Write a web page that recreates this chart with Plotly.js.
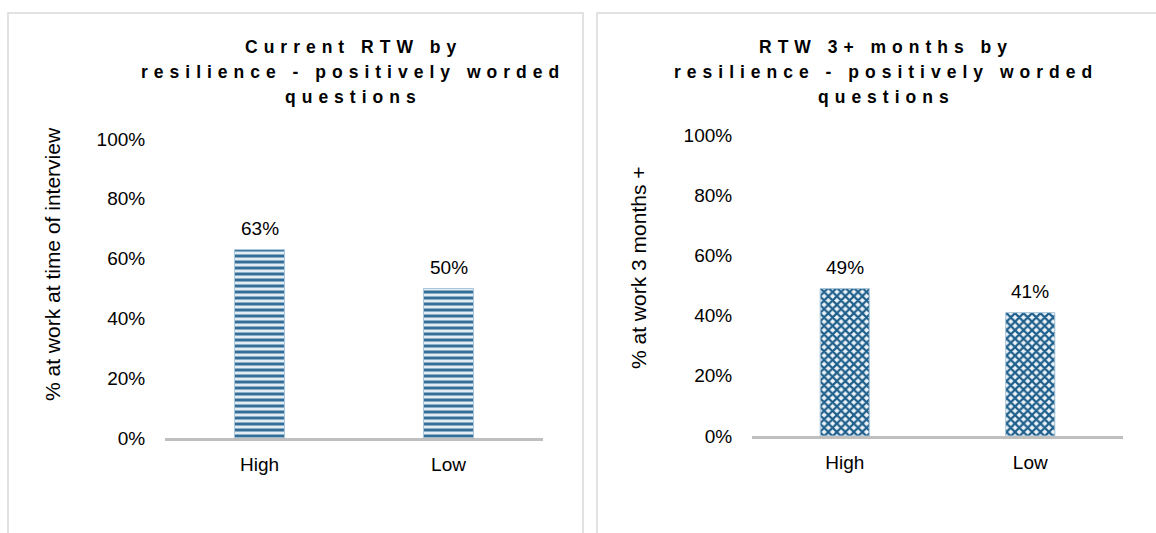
<!DOCTYPE html>
<html>
<head>
<meta charset="utf-8">
<script src="https://cdn.plot.ly/plotly-3.0.1.min.js"></script>
<style>html,body{margin:0;padding:0;background:#fff;}#chart{width:1156px;height:533px;}</style>
</head>
<body>
<div id="chart"></div>
<script>
// ---- data ----
const categories = ["High", "Low"];
const currentRTW = [0.63, 0.50];
const rtw3Months = [0.49, 0.41];
const titleLeft = ["Current RTW by", "resilience - positively worded", "questions"];
const titleRight = ["RTW 3+ months by", "resilience - positively worded", "questions"];
const yTitleLeft = "% at work at time of interview";
const yTitleRight = "% at work 3 months +";
const yTicks = [0, 0.2, 0.4, 0.6, 0.8, 1.0];

const W = 1156, H = 533;
const px = v => v / W;
const py = v => (H - v) / H;
const FONT = "Liberation Sans, Arial, sans-serif";
const FS = 19;

const fmt = v => Math.round(v * 100) + "%";

const traces = [
  {
    type: "bar", x: categories, y: currentRTW, xaxis: "x", yaxis: "y",
    width: 0.265, hoverinfo: "skip",
    marker: {
      color: "#dbe8f1",
      line: {color: "#a8c5da", width: 1},
      pattern: {shape: "-", size: 6, solidity: 0.5, fgcolor: "#336f98", bgcolor: "#e3edf4", fillmode: "replace"}
    }
  },
  {
    type: "bar", x: categories, y: rtw3Months, xaxis: "x2", yaxis: "y2",
    width: 0.265, hoverinfo: "skip",
    marker: {
      color: "#dbe8f1",
      line: {color: "#a8c5da", width: 1},
      pattern: {shape: "x", size: 6, solidity: 0.6, fgcolor: "#1f5f8b", bgcolor: "#eef4f8", fillmode: "replace"}
    }
  }
];

function yax(domain) {
  return {
    domain: domain, range: [0, 1], tickvals: yTicks, tickformat: ".0%",
    showgrid: false, zeroline: false, showline: false,
    ticks: "outside", ticklen: 15, tickcolor: "rgba(0,0,0,0)",
    tickfont: {family: FONT, size: FS, color: "#000"}, fixedrange: true
  };
}
function xax(domain, anchor) {
  return {
    domain: domain, anchor: anchor, range: [-0.5, 1.5],
    showgrid: false, zeroline: false, showline: true,
    linecolor: "#bfbfbf", linewidth: 3,
    ticks: "outside", ticklen: 7, tickcolor: "rgba(0,0,0,0)",
    tickfont: {family: FONT, size: FS, color: "#000"}, fixedrange: true
  };
}

const annotations = [];
function titleLines(lines, cx) {
  const ys = [47, 72, 97];
  lines.forEach((t, i) => {
    annotations.push({
      xref: "paper", yref: "paper", x: px(cx + 3), y: py(ys[i]),
      xanchor: "center", yanchor: "middle", showarrow: false,
      text: '<span style="letter-spacing:6px">' + t + '</span>',
      font: {family: FONT, size: 17.5, color: "#000", weight: "bold"}
    });
  });
}
titleLines(titleLeft, 350);
titleLines(titleRight, 883);

annotations.push({
  xref: "paper", yref: "paper", x: px(52), y: py(264), textangle: -90,
  xanchor: "center", yanchor: "middle", showarrow: false,
  text: yTitleLeft, font: {family: FONT, size: 21, color: "#000"}
});
annotations.push({
  xref: "paper", yref: "paper", x: px(638), y: py(268), textangle: -90,
  xanchor: "center", yanchor: "middle", showarrow: false,
  text: yTitleRight, font: {family: FONT, size: 21, color: "#000"}
});

categories.forEach((c, i) => {
  annotations.push({
    xref: "x", yref: "y", x: c, y: currentRTW[i], yshift: 21,
    xanchor: "center", yanchor: "middle", showarrow: false,
    text: fmt(currentRTW[i]), font: {family: FONT, size: FS, color: "#000"}
  });
  annotations.push({
    xref: "x2", yref: "y2", x: c, y: rtw3Months[i], yshift: 21,
    xanchor: "center", yanchor: "middle", showarrow: false,
    text: fmt(rtw3Months[i]), font: {family: FONT, size: FS, color: "#000"}
  });
});

const shapes = [
  {type: "rect", xref: "paper", yref: "paper", x0: px(8), x1: px(583), y0: -0.2, y1: py(13),
   line: {color: "#d9d9d9", width: 1.5}, fillcolor: "rgba(0,0,0,0)", layer: "below"},
  {type: "rect", xref: "paper", yref: "paper", x0: px(597), x1: 1.2, y0: -0.2, y1: py(13),
   line: {color: "#d9d9d9", width: 1.5}, fillcolor: "rgba(0,0,0,0)", layer: "below"}
];

const layout = {
  width: W, height: H,
  margin: {l: 0, r: 0, t: 0, b: 0},
  paper_bgcolor: "#fff", plot_bgcolor: "rgba(0,0,0,0)",
  showlegend: false,
  xaxis: xax([px(165), px(543)], "y"),
  yaxis: Object.assign(yax([py(438), py(139)]), {anchor: "x"}),
  xaxis2: xax([px(752), px(1123)], "y2"),
  yaxis2: Object.assign(yax([py(436), py(135)]), {anchor: "x2"}),
  annotations: annotations,
  shapes: shapes,
  font: {family: FONT}
};

Plotly.newPlot("chart", traces, layout, {displayModeBar: false, staticPlot: true});
</script>
</body>
</html>
